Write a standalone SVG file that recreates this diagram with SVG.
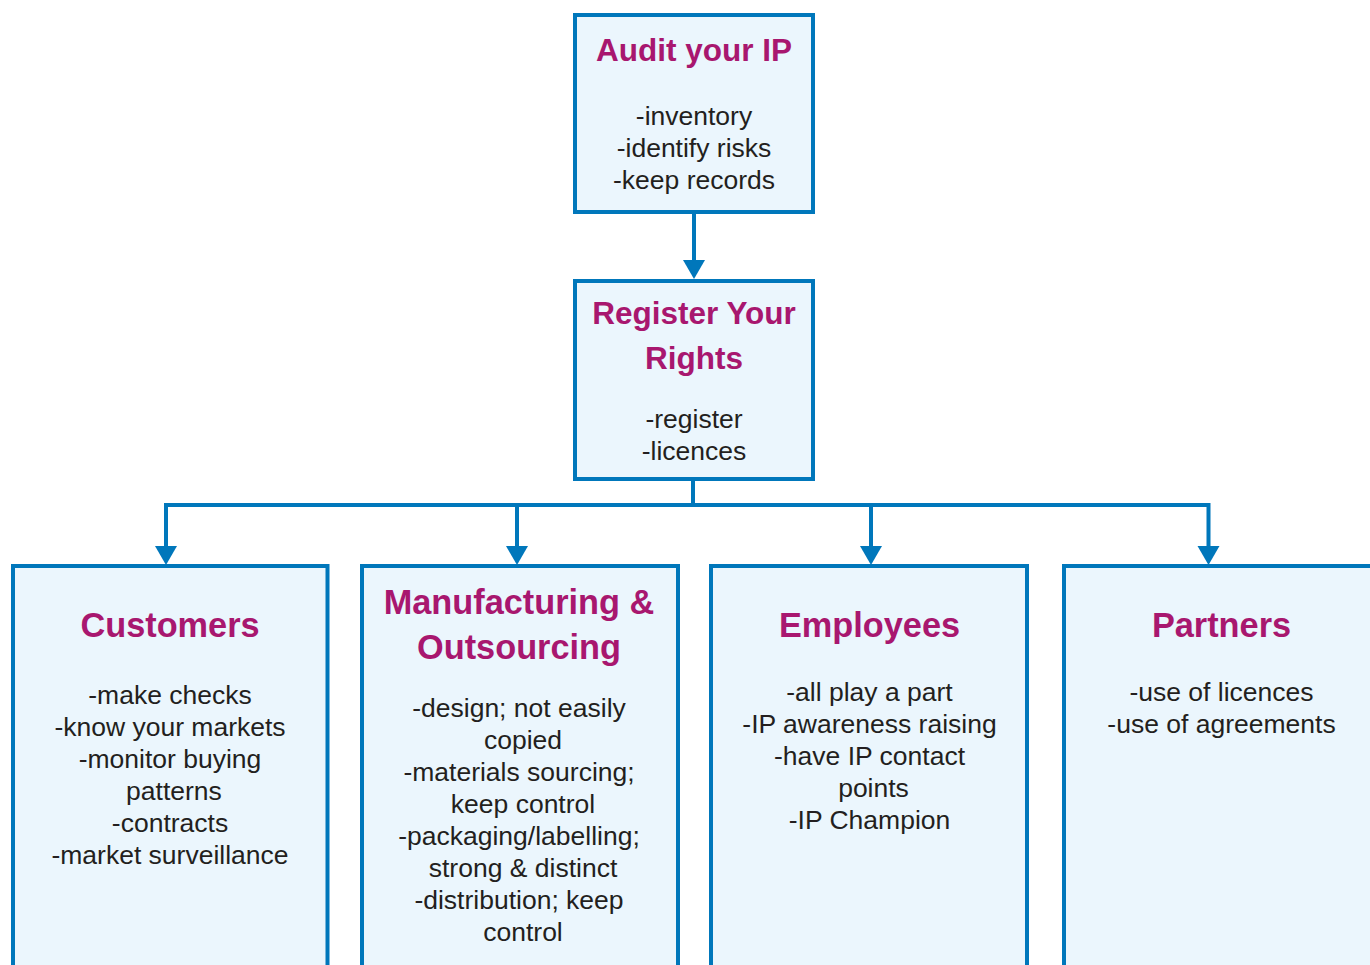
<svg xmlns="http://www.w3.org/2000/svg" width="1370" height="965" viewBox="0 0 1370 965">
<style>
.box{fill:#EBF6FD;stroke:#0077BB;stroke-width:4}
.conn{fill:none;stroke:#0077BB;stroke-width:4;stroke-linejoin:miter}
.t1{font-family:"Liberation Sans",Arial,sans-serif;font-weight:bold;font-size:31.5px;fill:#A8176F;text-anchor:middle}
.t2{font-family:"Liberation Sans",Arial,sans-serif;font-weight:bold;font-size:34.3px;fill:#A8176F;text-anchor:middle}
.b{font-family:"Liberation Sans",Arial,sans-serif;font-size:26.5px;fill:#231F20;text-anchor:middle}
</style>
<defs>
<marker id="ah" markerUnits="userSpaceOnUse" markerWidth="22" markerHeight="24" refX="0" refY="11" orient="auto">
<path d="M0,0 L19,11 L0,22 z" fill="#0077BB"/>
</marker>
</defs>
<rect width="1370" height="965" fill="#FFFFFF"/>
<g id="connectors">
<path class="conn" d="M694,214 V260" marker-end="url(#ah)"/>
<path class="conn" d="M693,481 V505 H166 V546" marker-end="url(#ah)"/>
<path class="conn" d="M693,505 H517 V546" marker-end="url(#ah)"/>
<path class="conn" d="M693,505 H871 V546" marker-end="url(#ah)"/>
<path class="conn" d="M871,505 H1208.5 V546" marker-end="url(#ah)"/>
</g>
<g id="audit">
<rect class="box" x="575" y="15" width="238" height="197"/>
<text class="t1" x="694" y="61">Audit your IP</text>
<text class="b" x="694" y="124.5">-inventory</text>
<text class="b" x="694" y="156.5">-identify risks</text>
<text class="b" x="694" y="188.5">-keep records</text>
</g>
<g id="register">
<rect class="box" x="575" y="281" width="238" height="198"/>
<text class="t1" x="694" y="324">Register Your</text>
<text class="t1" x="694" y="369">Rights</text>
<text class="b" x="694" y="427.5">-register</text>
<text class="b" x="694" y="459.5">-licences</text>
</g>
<g id="customers">
<rect class="box" x="13" y="566" width="314.5" height="420"/>
<text class="t2" x="170" y="637">Customers</text>
<text class="b" x="170" y="703.5">-make checks</text>
<text class="b" x="170" y="735.5">-know your markets</text>
<text class="b" x="170" y="767.5">-monitor buying</text>
<text class="b" x="174" y="799.5">patterns</text>
<text class="b" x="170" y="831.5">-contracts</text>
<text class="b" x="170" y="863.5">-market surveillance</text>
</g>
<g id="manufacturing">
<rect class="box" x="362" y="566" width="316" height="420"/>
<text class="t2" x="519" y="614">Manufacturing &amp;</text>
<text class="t2" x="519" y="659">Outsourcing</text>
<text class="b" x="519" y="716.5">-design; not easily</text>
<text class="b" x="523" y="748.5">copied</text>
<text class="b" x="519" y="780.5">-materials sourcing;</text>
<text class="b" x="523" y="812.5">keep control</text>
<text class="b" x="519" y="844.5">-packaging/labelling;</text>
<text class="b" x="523" y="876.5">strong &amp; distinct</text>
<text class="b" x="519" y="909">-distribution; keep</text>
<text class="b" x="523" y="941">control</text>
</g>
<g id="employees">
<rect class="box" x="711" y="566" width="316" height="420"/>
<text class="t2" x="869.5" y="637">Employees</text>
<text class="b" x="869.5" y="700.5">-all play a part</text>
<text class="b" x="869.5" y="732.5">-IP awareness raising</text>
<text class="b" x="869.5" y="764.5">-have IP contact</text>
<text class="b" x="873.5" y="796.5">points</text>
<text class="b" x="869.5" y="828.5">-IP Champion</text>
</g>
<g id="partners">
<rect class="box" x="1064" y="566" width="316" height="420"/>
<text class="t2" x="1221.5" y="637">Partners</text>
<text class="b" x="1221.5" y="700.5">-use of licences</text>
<text class="b" x="1221.5" y="732.5">-use of agreements</text>
</g>
</svg>
